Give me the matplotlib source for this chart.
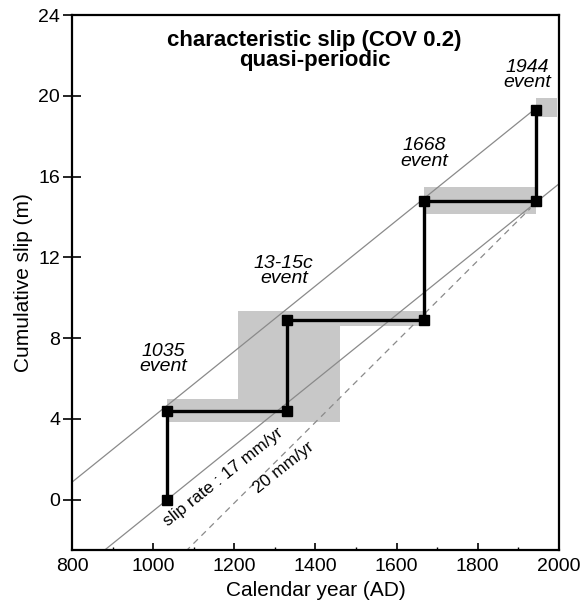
import matplotlib
matplotlib.use("Agg")
import matplotlib.pyplot as plt
from matplotlib.patches import Rectangle
import numpy as np

plt.rcParams['font.family'] = ['Liberation Sans', 'DejaVu Sans']

# cumulative slip step path
step_years = [1035, 1035, 1330, 1330, 1668, 1668, 1944, 1944]
step_slip = [0.0, 4.4, 4.4, 8.9, 8.9, 14.8, 14.8, 19.3]

# uncertainty boxes: (x0, x1, y0, y1)
box_x0 = [1035, 1210, 1330, 1668, 1944]
box_x1 = [1460, 1460, 1675, 1944, 1996]
box_y0 = [3.83, 3.83, 8.6, 14.14, 18.97]
box_y1 = [4.98, 9.32, 9.32, 15.46, 19.88]

# slip-rate lines (m/yr) and anchor points
rate_17 = 0.0162
upper_anchor = (800, 0.86)
lower_anchor = (1035, 0.0)
rate_20 = 0.020
dash_anchor = (1208.5, 0.0)

event_labels = ["1035\nevent", "13-15c\nevent", "1668\nevent", "1944\nevent"]
event_x = [1024, 1322, 1668, 1921]
event_y = [6.98, 11.3, 17.14, 21.04]

fig = plt.figure(figsize=(5.84, 6.03), dpi=100)
ax = fig.add_axes([0.1233, 0.0879, 0.957 - 0.1233, 0.9751 - 0.0879])

gray = '#c8c8c8'
for x0, x1, y0, y1 in zip(box_x0, box_x1, box_y0, box_y1):
    ax.add_patch(Rectangle((x0, y0), x1 - x0, y1 - y0, facecolor=gray,
                           edgecolor='none', zorder=1))

xu = np.array([780, 1944])
ax.plot(xu, upper_anchor[1] + rate_17 * (xu - upper_anchor[0]), color='#8a8a8a',
        lw=0.9, zorder=2)
xs = np.array([780, 2020])
ax.plot(xs, lower_anchor[1] + rate_17 * (xs - lower_anchor[0]), color='#8a8a8a',
        lw=0.9, zorder=2)
xd = np.array([1060, 1930])
ax.plot(xd, dash_anchor[1] + rate_20 * (xd - dash_anchor[0]), color='#8a8a8a',
        lw=0.9, ls=(0, (5, 4)), zorder=2)

ax.plot(step_years, step_slip, color='black', lw=2.4, marker='s', ms=7,
        markerfacecolor='black', zorder=4)

ax.set_xlim(800, 2000)
ax.set_ylim(-2.5, 24)
ax.set_xticks(np.arange(800, 2001, 200))
ax.set_xticks(np.arange(900, 2000, 200), minor=True)
ax.set_yticks(np.arange(0, 25, 4))
ax.tick_params(axis='x', which='major', direction='in', length=5, width=1.2,
               labelsize=14, pad=6)
ax.tick_params(axis='x', which='minor', direction='in', length=2.5, width=1.0)
ax.tick_params(axis='y', which='major', direction='inout', length=13, width=1.2,
               labelsize=14, pad=2)
for s in ax.spines.values():
    s.set_linewidth(1.6)

ax.set_xlabel('Calendar year (AD)', fontsize=15, labelpad=4)
ax.set_ylabel('Cumulative slip (m)', fontsize=15, labelpad=4)

ax.text(1398, 22.25, 'characteristic slip (COV 0.2)\nquasi-periodic',
        ha='center', va='center', fontsize=16, fontweight='bold',
        linespacing=0.95, zorder=5)

for lab, x, y in zip(event_labels, event_x, event_y):
    ax.text(x, y, lab, ha='center', va='center', fontsize=14,
            style='italic', linespacing=0.85, zorder=5)

ax.text(1172, 1.09, 'slip rate : 17 mm/yr', ha='center', va='center',
        fontsize=12.5, rotation=38.5, rotation_mode='anchor', zorder=5)
ax.text(1322, 1.58, '20 mm/yr', ha='center', va='center',
        fontsize=12.5, rotation=38.5, rotation_mode='anchor', zorder=5)

fig.savefig('out.png', dpi=100)
